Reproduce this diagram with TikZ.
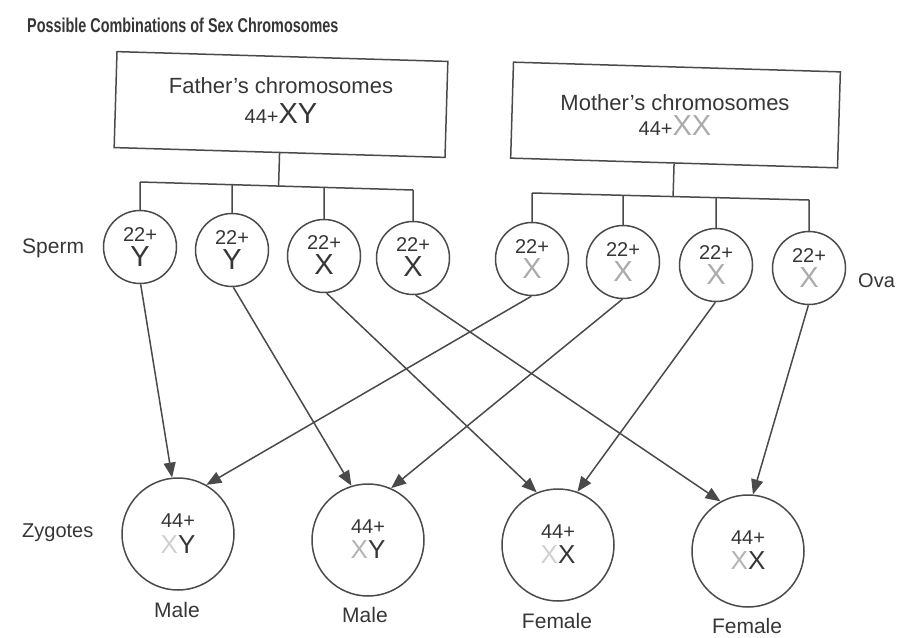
\documentclass[tikz,border=0pt]{standalone}
\usepackage{fontspec}
\usepackage{graphicx}
\setmainfont{Liberation Sans}
\usetikzlibrary{arrows.meta}
\definecolor{ink}{HTML}{4A4A4A}
\definecolor{txt}{HTML}{363636}
\definecolor{momx}{HTML}{ABABAB}
\definecolor{faintx}{HTML}{D0D0D0}
\definecolor{midx}{HTML}{B4B4B4}
\begin{document}
\begin{tikzpicture}[x=1pt,y=-1pt,
  line/.style={draw=ink, line width=1.5pt},
  arrowline/.style={draw=ink, line width=1.5pt, -{Triangle[length=15pt,width=12pt]}},
  gamete/.style={circle, draw=ink, line width=1.5pt, minimum size=73pt, inner sep=0pt},
  zygote/.style={circle, draw=ink, line width=1.5pt, minimum size=112pt, inner sep=0pt},
  parentbox/.style={draw=ink, line width=1.5pt, minimum height=96pt, inner sep=0pt, rotate=-1.7},
  lbl/.style={text=txt, font=\fontsize{21}{21}\selectfont, inner sep=0pt, anchor=base},
  side/.style={text=txt, font=\fontsize{20}{20}\selectfont, inner sep=0pt, anchor=base west},
  small/.style={text=txt, font=\fontsize{20}{20}\selectfont, inner sep=0pt, anchor=base},
  big/.style={text=txt, font=\fontsize{29}{29}\selectfont, inner sep=0pt, anchor=base},
  zbig/.style={text=txt, font=\fontsize{26}{26}\selectfont, inner sep=0pt, anchor=base},
]
\useasboundingbox (0,0) rectangle (901,637);

% title
\node[text=txt, font=\bfseries\fontsize{20}{20}\selectfont, inner sep=0pt, anchor=base west] (title) at (27,32) {\scalebox{0.72}[1]{Possible Combinations of Sex Chromosomes}};

% parent boxes
\node[parentbox, minimum width=331pt] (father) at (281,104.5) {};
\node[lbl, font=\fontsize{22}{22}\selectfont] (fatherA) at (281,93) {Father's chromosomes};
\node[small] (fatherB) at (281,123) {44+{\fontsize{29}{29}\selectfont XY}};

\node[parentbox, minimum width=327pt] (mother) at (675.5,115) {};
\node[lbl, font=\fontsize{22}{22}\selectfont] (motherA) at (675,110) {Mother's chromosomes};
\node[small] (motherB) at (675,135) {44+{\fontsize{29}{29}\selectfont\color{momx}XX}};

% sperm
\node[gamete] (s1) at (140,247) {};
\node[gamete] (s2) at (232,250) {};
\node[gamete] (s3) at (324,256) {};
\node[gamete] (s4) at (413,258) {};
% ova
\node[gamete] (o1) at (532,259) {};
\node[gamete] (o2) at (623,262) {};
\node[gamete] (o3) at (716,265) {};
\node[gamete] (o4) at (809,268) {};

% gamete texts
\node[small] (s1a) at ([yshift=6pt]s1.center) {22+};
\node[big]   (s1b) at ([yshift=-19pt]s1.center) {Y};
\node[small] (s2a) at ([yshift=6pt]s2.center) {22+};
\node[big]   (s2b) at ([yshift=-19pt]s2.center) {Y};
\node[small] (s3a) at ([yshift=7pt]s3.center) {22+};
\node[big]   (s3b) at ([yshift=-18pt]s3.center) {X};
\node[small] (s4a) at ([yshift=7pt]s4.center) {22+};
\node[big]   (s4b) at ([yshift=-18pt]s4.center) {X};
\node[small] (o1a) at ([yshift=6pt]o1.center) {22+};
\node[big, text=momx] (o1b) at ([yshift=-19pt]o1.center) {X};
\node[small] (o2a) at ([yshift=6pt]o2.center) {22+};
\node[big, text=momx] (o2b) at ([yshift=-19pt]o2.center) {X};
\node[small] (o3a) at ([yshift=6pt]o3.center) {22+};
\node[big, text=momx] (o3b) at ([yshift=-19pt]o3.center) {X};
\node[small] (o4a) at ([yshift=6pt]o4.center) {22+};
\node[big, text=momx] (o4b) at ([yshift=-19pt]o4.center) {X};

% side labels
\node[side, font=\fontsize{21}{21}\selectfont] (sperm) at (22,253) {Sperm};
\node[side] (ova) at (858,287) {Ova};
\node[side] (zyg) at (22,537) {Zygotes};

% father bracket
\coordinate (fb1) at (140,182);
\coordinate (fb4) at (413,190);
\draw[line] (fb1) -- (fb4);
\draw[line] (father.south) -- (intersection of fb1--fb4 and father.south--father.north);
\foreach \n in {s1,s2,s3,s4}
  \draw[line] (\n.north) -- (intersection of fb1--fb4 and \n.north--\n.center);

% mother bracket
\coordinate (mb1) at (532,193);
\coordinate (mb4) at (809,200);
\draw[line] (mb1) -- (mb4);
\draw[line] (mother.south) -- (intersection of mb1--mb4 and mother.south--mother.north);
\foreach \n in {o1,o2,o3,o4}
  \draw[line] (\n.north) -- (intersection of mb1--mb4 and \n.north--\n.center);

% zygotes
\node[zygote] (z1) at (178,534) {};
\node[zygote] (z2) at (368,540) {};
\node[zygote] (z3) at (558,545) {};
\node[zygote] (z4) at (748,551) {};

\node[small] (z1a) at ([yshift=7pt]z1.center) {44+};
\node[zbig]  (z1b) at ([yshift=-19pt]z1.center) {{\color{faintx}X}Y};
\node[small] (z2a) at ([yshift=7pt]z2.center) {44+};
\node[zbig]  (z2b) at ([yshift=-18pt]z2.center) {{\color{midx}X}Y};
\node[small] (z3a) at ([yshift=7pt]z3.center) {44+};
\node[zbig]  (z3b) at ([yshift=-18pt]z3.center) {{\color{faintx}X}X};
\node[small] (z4a) at ([yshift=7pt]z4.center) {44+};
\node[zbig]  (z4b) at ([yshift=-18pt]z4.center) {{\color{midx}X}X};

\node[lbl] (m1) at (177,617) {Male};
\node[lbl] (m2) at (365,622) {Male};
\node[lbl] (f1) at (557,628) {Female};
\node[lbl] (f2) at (747,633) {Female};

% arrows
\draw[arrowline] (s1.-89) -- (z1.96);
\draw[arrowline] (s2.-88) -- (z2.107);
\draw[arrowline] (s3.-86) -- (z3.112);
\draw[arrowline] (s4.-86) -- (z4.119);
\draw[arrowline] (o1.-91) -- (z1.60);
\draw[arrowline] (o2.-91) -- (z2.66);
\draw[arrowline] (o3.-91) -- (z3.70);
\draw[arrowline] (o4.-91) -- (z4.85);
\end{tikzpicture}
\end{document}
